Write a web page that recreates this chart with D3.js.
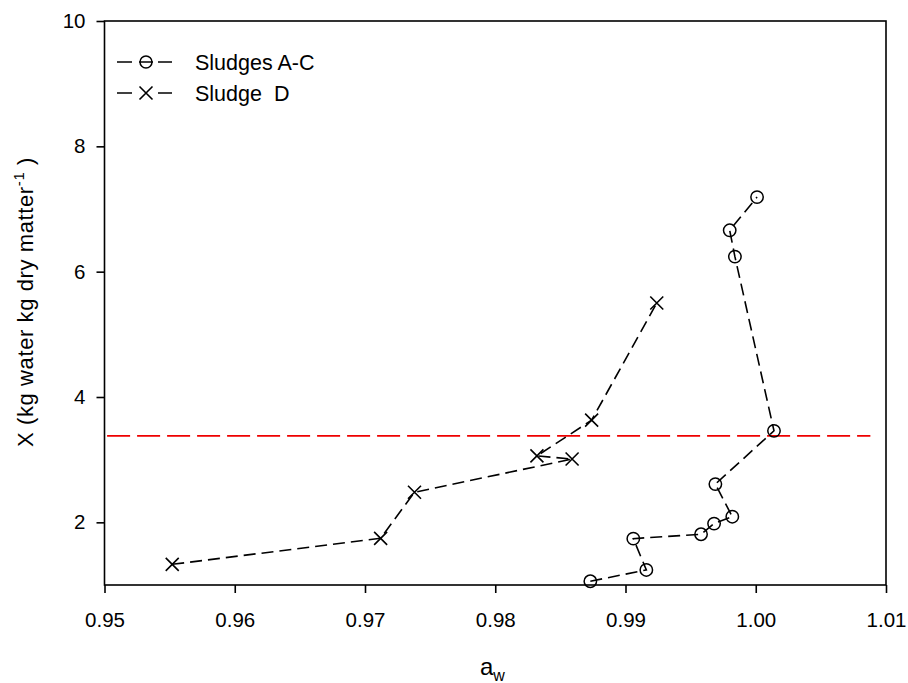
<!DOCTYPE html>
<html>
<head>
<meta charset="utf-8">
<script src="https://cdn.jsdelivr.net/npm/d3@7"></script>
<style>
  body { margin: 0; background: #fff; }
  text { font-family: "Liberation Sans", Arial, sans-serif; fill: #000; }
</style>
</head>
<body>
<svg></svg>
<script>
const width = 908;
const height = 683;

// datos
const sludgeAC_aw = [0.9873, 0.9916, 0.9906, 0.9958, 0.9968, 0.9982, 0.9969, 1.0014, 0.9984, 0.9980, 1.0001];
const sludgeAC_X = [1.06, 1.24, 1.74, 1.81, 1.98, 2.09, 2.61, 3.46, 6.24, 6.66, 7.19];
const sludgeD_aw = [0.9552, 0.9712, 0.9738, 0.9859, 0.9832, 0.9874, 0.9924];
const sludgeD_X = [1.33, 1.745, 2.48, 3.01, 3.06, 3.63, 5.50];
const refLineX = 3.38;
const refLineFrom = 0.9502;
const refLineTo = 1.0088;
const xTicks = [0.95, 0.96, 0.97, 0.98, 0.99, 1.00, 1.01];
const yTicks = [2, 4, 6, 8, 10];
const legendLabels = ["Sludges A-C", "Sludge\u00a0 D"];

const svg = d3.select("svg").attr("width", width).attr("height", height);

// escalas
const x = d3.scaleLinear().domain([0.95, 1.01]).range([104.5, 886]);
const y = d3.scaleLinear().domain([1, 10]).range([585, 21]);

// marco
svg.append("rect")
  .attr("x", x(0.95)).attr("y", y(10))
  .attr("width", x(1.01) - x(0.95)).attr("height", y(1) - y(10))
  .attr("fill", "none").attr("stroke", "#000").attr("stroke-width", 1.6);

// eje x
const gx = svg.append("g")
  .attr("transform", `translate(0,${y(1)})`)
  .call(d3.axisBottom(x).tickValues(xTicks).tickFormat(d3.format(".2f")).tickSizeInner(8).tickSizeOuter(0).tickPadding(19));
gx.select(".domain").remove();
gx.selectAll("line").attr("stroke-width", 1.6);
gx.selectAll("text").attr("font-size", 20.5).attr("font-family", "Liberation Sans, Arial, sans-serif");

// eje y
const gy = svg.append("g")
  .attr("transform", `translate(${x(0.95)},0)`)
  .call(d3.axisLeft(y).tickValues(yTicks).tickSizeInner(8).tickSizeOuter(0).tickPadding(11));
gy.select(".domain").remove();
gy.selectAll("line").attr("stroke-width", 1.6);
gy.selectAll("text").attr("font-size", 20.5).attr("font-family", "Liberation Sans, Arial, sans-serif");

// linea de referencia
svg.append("line")
  .attr("x1", x(refLineFrom)).attr("x2", x(refLineTo))
  .attr("y1", y(refLineX)).attr("y2", y(refLineX))
  .attr("stroke", "#ee0000").attr("stroke-width", 1.6)
  .attr("stroke-dasharray", "23,7");

const line = d3.line().x(d => x(d[0])).y(d => y(d[1]));

const dataAC = d3.zip(sludgeAC_aw, sludgeAC_X);
const dataD = d3.zip(sludgeD_aw, sludgeD_X);

// series
[dataAC, dataD].forEach(data => {
  svg.append("path")
    .attr("d", line(data))
    .attr("fill", "none")
    .attr("stroke", "#000")
    .attr("stroke-width", 1.6)
    .attr("stroke-dasharray", "12,6");
});

// marcadores circulo
svg.selectAll(".circ")
  .data(dataAC)
  .join("circle")
  .attr("cx", d => x(d[0])).attr("cy", d => y(d[1]))
  .attr("r", 6.2)
  .attr("fill", "none").attr("stroke", "#000").attr("stroke-width", 1.5);

// marcadores cruz
const cross = (g, cx, cy, s) => {
  g.append("path")
    .attr("d", `M${cx - s},${cy - s}L${cx + s},${cy + s}M${cx - s},${cy + s}L${cx + s},${cy - s}`)
    .attr("stroke", "#000").attr("stroke-width", 1.6).attr("fill", "none");
};
dataD.forEach(d => cross(svg, x(d[0]), y(d[1]), 6.5));

// leyenda
const legend = svg.append("g");
const rows = [62, 93];
rows.forEach((ry, i) => {
  legend.append("line").attr("x1", 117).attr("x2", 132).attr("y1", ry).attr("y2", ry)
    .attr("stroke", "#000").attr("stroke-width", 1.5);
  legend.append("line").attr("x1", 158).attr("x2", 172).attr("y1", ry).attr("y2", ry)
    .attr("stroke", "#000").attr("stroke-width", 1.5);
  if (i === 0) {
    legend.append("line").attr("x1", 139).attr("x2", 153).attr("y1", ry).attr("y2", ry)
      .attr("stroke", "#000").attr("stroke-width", 1.5);
    legend.append("circle").attr("cx", 146).attr("cy", ry).attr("r", 6)
      .attr("fill", "none").attr("stroke", "#000").attr("stroke-width", 1.5);
  } else {
    cross(legend, 146, ry, 6.5);
  }
  legend.append("text").attr("x", 195).attr("y", ry + 8)
    .attr("font-size", 21.5).text(legendLabels[i]);
});

// etiqueta x
const xl = svg.append("text")
  .attr("x", 480).attr("y", 675)
  .attr("font-size", 24);
xl.append("tspan").text("a");
xl.append("tspan").attr("font-size", 16).attr("dy", 6).text("w");

// etiqueta y
const yl = svg.append("text")
  .attr("transform", "translate(33,302) rotate(-90)")
  .attr("text-anchor", "middle")
  .attr("font-size", 22)
  .attr("letter-spacing", 0.6);
yl.append("tspan").text("X (kg water kg dry matter");
yl.append("tspan").attr("font-size", 15).attr("dy", -9).text("-1");
yl.append("tspan").attr("dy", 9).text(" )");
</script>
</body>
</html>
